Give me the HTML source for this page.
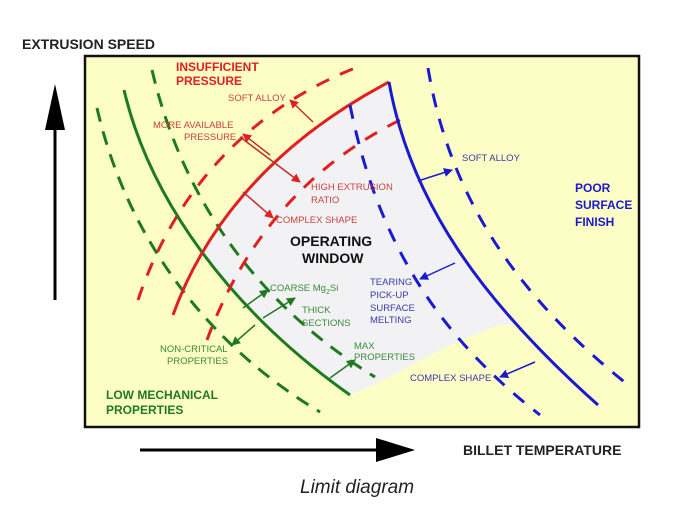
<!DOCTYPE html>
<html><head><meta charset="utf-8"><style>
html,body{margin:0;padding:0;background:#fff;}
svg{display:block;font-family:"Liberation Sans",Arial,sans-serif;}
</style></head><body>
<svg width="683" height="517" viewBox="0 0 683 517" xmlns="http://www.w3.org/2000/svg">
<defs>
<marker id="ar" markerWidth="9" markerHeight="9" refX="8" refY="4.5" orient="auto" markerUnits="userSpaceOnUse" viewBox="0 0 9 9"><path d="M0,0 L9,4.5 L0,9 Z" fill="#e02020"/></marker>
<marker id="ag" markerWidth="9" markerHeight="9" refX="8" refY="4.5" orient="auto" markerUnits="userSpaceOnUse" viewBox="0 0 9 9"><path d="M0,0 L9,4.5 L0,9 Z" fill="#1f7a1f"/></marker>
<marker id="ab" markerWidth="9" markerHeight="9" refX="8" refY="4.5" orient="auto" markerUnits="userSpaceOnUse" viewBox="0 0 9 9"><path d="M0,0 L9,4.5 L0,9 Z" fill="#1a1ad0"/></marker>
</defs>
<rect width="683" height="517" fill="#fff"/>
<text x="22" y="49" font-size="14" font-weight="bold" fill="#222">EXTRUSION SPEED</text>
<line x1="55" y1="300" x2="55" y2="120" stroke="#000" stroke-width="3"/>
<path d="M45,130 L55,84 L65,130 Z" fill="#000"/>
<line x1="140" y1="450" x2="378" y2="450" stroke="#000" stroke-width="3"/>
<path d="M376,438 L415,450 L376,462 Z" fill="#000"/>
<text x="463" y="455" font-size="14" font-weight="bold" fill="#222">BILLET TEMPERATURE</text>
<text x="300" y="493" font-size="19" font-style="italic" fill="#222">Limit diagram</text>

<rect x="85" y="56" width="554" height="371" fill="#fdfdc6" stroke="#111" stroke-width="2.5"/>
<!-- operating window -->
<path d="M173,315 C200,240 260,150 389,82 L600,82 L600,325 L500,325 C440,345 390,380 350,395 L200,330 Z" fill="#f2f2f4"/>
<path d="M389,82 C410,200 480,300 598,405 L637,405 L637,58 L389,58 Z" fill="#fdfdc6"/>
<path d="M124,90 C150,200 230,310 350,395 L350,425 L87,425 L87,90 Z" fill="#fdfdc6"/>

<!-- green -->
<path d="M124,90 C150,200 230,310 350,395" fill="none" stroke="#1f7a1f" stroke-width="3"/>
<path d="M97,108 C125,230 200,340 320,412" fill="none" stroke="#1f7a1f" stroke-width="3" stroke-dasharray="14,10"/>
<path d="M152,70 C180,190 250,300 375,377" fill="none" stroke="#1f7a1f" stroke-width="3" stroke-dasharray="14,10"/>
<!-- red -->
<path d="M173,315 C200,240 260,150 389,82" fill="none" stroke="#e02020" stroke-width="3"/>
<path d="M138,300 C175,190 250,110 355,68" fill="none" stroke="#e02020" stroke-width="3" stroke-dasharray="14,12"/>
<path d="M207,340 C240,250 300,170 400,120" fill="none" stroke="#e02020" stroke-width="3" stroke-dasharray="14,12"/>
<!-- blue -->
<path d="M389,82 C410,200 480,300 598,405" fill="none" stroke="#1a1ad0" stroke-width="3"/>
<path d="M350,105 C375,230 430,330 540,415" fill="none" stroke="#1a1ad0" stroke-width="3" stroke-dasharray="14,12"/>
<path d="M428,68 C450,200 520,300 632,388" fill="none" stroke="#1a1ad0" stroke-width="3" stroke-dasharray="14,12"/>

<!-- red arrows -->
<g stroke="#c03030" stroke-width="1.5">
<line x1="313" y1="122" x2="290" y2="100" marker-end="url(#ar)"/>
<line x1="240" y1="137" x2="300" y2="182" marker-end="url(#ar)"/>
<line x1="270" y1="155" x2="243" y2="134" marker-end="url(#ar)"/>
<line x1="243" y1="192" x2="273" y2="218" marker-end="url(#ar)"/>
</g>
<!-- green arrows -->
<g stroke="#1f7a1f" stroke-width="1.5">
<line x1="243" y1="308" x2="268" y2="290" marker-end="url(#ag)"/>
<line x1="255" y1="325" x2="232" y2="345" marker-end="url(#ag)"/>
<line x1="263" y1="318" x2="295" y2="298" marker-end="url(#ag)"/>
<line x1="330" y1="378" x2="355" y2="360" marker-end="url(#ag)"/>
</g>
<!-- blue arrows -->
<g stroke="#1a1ad0" stroke-width="1.5">
<line x1="418" y1="181" x2="452" y2="170" marker-end="url(#ab)"/>
<line x1="455" y1="263" x2="420" y2="279" marker-end="url(#ab)"/>
<line x1="535" y1="362" x2="500" y2="377" marker-end="url(#ab)"/>
</g>

<g font-weight="bold" font-size="12">
<text x="176" y="71" fill="#e02020">INSUFFICIENT</text>
<text x="176" y="85" fill="#e02020">PRESSURE</text>
<text x="575" y="192" fill="#1a1ad0">POOR</text>
<text x="575" y="209" fill="#1a1ad0">SURFACE</text>
<text x="575" y="226" fill="#1a1ad0">FINISH</text>
<text x="106" y="399" fill="#1f7a1f">LOW MECHANICAL</text>
<text x="106" y="414" fill="#1f7a1f">PROPERTIES</text>
<text x="290" y="246" font-size="14" fill="#111">OPERATING</text>
<text x="302" y="263" font-size="14" fill="#111">WINDOW</text>
</g>
<g font-size="9.5">
<text x="228" y="101" fill="#c84040">SOFT ALLOY</text>
<text x="153" y="128" fill="#c84040">MORE AVAILABLE</text>
<text x="184" y="140" fill="#c84040">PRESSURE</text>
<text x="311" y="190" fill="#c84040">HIGH EXTRUSION</text>
<text x="311" y="203" fill="#c84040">RATIO</text>
<text x="276" y="223" fill="#c84040">COMPLEX SHAPE</text>
<text x="462" y="161" fill="#3a3aa8">SOFT ALLOY</text>
<text x="370" y="285" fill="#3a3aa8">TEARING</text>
<text x="370" y="298" fill="#3a3aa8">PICK-UP</text>
<text x="370" y="311" fill="#3a3aa8">SURFACE</text>
<text x="370" y="323" fill="#3a3aa8">MELTING</text>
<text x="410" y="381" fill="#3a3aa8">COMPLEX SHAPE</text>
<text x="270" y="291" fill="#3a8a3a">COARSE Mg<tspan font-size="7" dy="3">2</tspan><tspan dy="-3">Si</tspan></text>
<text x="302" y="313" fill="#3a8a3a">THICK</text>
<text x="302" y="326" fill="#3a8a3a">SECTIONS</text>
<text x="160" y="352" fill="#3a8a3a">NON-CRITICAL</text>
<text x="167" y="364" fill="#3a8a3a">PROPERTIES</text>
<text x="354" y="349" fill="#3a8a3a">MAX</text>
<text x="354" y="360" fill="#3a8a3a">PROPERTIES</text>
</g>
</svg>
</body></html>
